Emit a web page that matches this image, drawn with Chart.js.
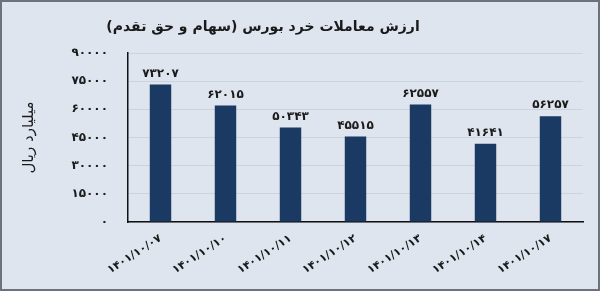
<!DOCTYPE html>
<html>
<head>
<meta charset="utf-8">
<script src="https://cdn.jsdelivr.net/npm/chart.js@4/dist/chart.umd.min.js"></script>
<style>
  body { margin: 0; background: #dfe5ef; }
  #wrap { width: 600px; height: 291px; position: relative; }
</style>
</head>
<body>
<div id="wrap"><canvas id="chart"></canvas></div>
<script>
// data
const dates = ['1401/10/07', '1401/10/10', '1401/10/11', '1401/10/12', '1401/10/13', '1401/10/14', '1401/10/17'];
const values = [73207, 62015, 50343, 45515, 62557, 41641, 56257];
const yTicks = [0, 15000, 30000, 45000, 60000, 75000, 90000];

const chartTitle = 'ارزش معاملات خرد بورس (سهام و حق تقدم)';
const yTitle = 'میلیارد ریال';

// latin -> persian digits
const fa = (v) => String(v).replace(/[0-9]/g, d => '۰۱۲۳۴۵۶۷۸۹'[d]);

const fontFam = '"DejaVu Sans", "Noto Sans", sans-serif';

// background, frame and the title (title sits left of centre in the original)
const framePlugin = {
    id: 'frame',
    beforeDraw(chart) {
        const ctx = chart.ctx;
        ctx.save();
        ctx.fillStyle = '#dfe5ef';
        ctx.fillRect(0, 0, chart.width, chart.height);
        ctx.strokeStyle = '#6e737b';
        ctx.lineWidth = 2;
        ctx.strokeRect(1, 1, chart.width - 2, chart.height - 2);
        ctx.font = 'bold 14px ' + fontFam;
        ctx.fillStyle = '#1a1a1a';
        ctx.textAlign = 'center';
        ctx.textBaseline = 'middle';
        ctx.fillText(chartTitle, 263, 27);
        ctx.restore();
    }
};

// value labels above each bar
const valueLabels = {
    id: 'valueLabels',
    afterDatasetsDraw(chart) {
        const ctx = chart.ctx;
        const meta = chart.getDatasetMeta(0);
        ctx.save();
        ctx.font = 'bold 12px ' + fontFam;
        ctx.fillStyle = '#1a1a1a';
        ctx.textAlign = 'center';
        ctx.textBaseline = 'bottom';
        meta.data.forEach((bar, i) => {
            ctx.fillText(fa(values[i]), bar.x, bar.y - 5);
        });
        ctx.restore();
    }
};

new Chart(document.getElementById('chart'), {
    type: 'bar',
    data: {
        labels: dates.map(fa),
        datasets: [{
            data: values,
            backgroundColor: '#1b3a63',
            categoryPercentage: 1,
            barPercentage: 0.33
        }]
    },
    options: {
        responsive: true,
        maintainAspectRatio: false,
        animation: false,
        layout: { padding: { left: 0, right: 17, top: 53, bottom: 0 } },
        plugins: {
            legend: { display: false },
            tooltip: { enabled: false },
            title: { display: false }
        },
        scales: {
            x: {
                grid: { display: false, drawTicks: false },
                border: { color: '#111', width: 1.5 },
                ticks: {
                    color: '#1a1a1a',
                    font: { family: fontFam, size: 11, weight: 'bold' },
                    minRotation: 33,
                    maxRotation: 33,
                    padding: 10
                },
                afterFit(scale) { scale.height = 69; }
            },
            y: {
                min: 0,
                max: 90000,
                afterBuildTicks(scale) { scale.ticks = yTicks.map(v => ({ value: v })); },
                grid: { color: '#cbd3de', drawTicks: false },
                border: { color: '#111', width: 1.5 },
                ticks: {
                    color: '#1a1a1a',
                    font: { family: fontFam, size: 12, weight: 'bold' },
                    padding: 20,
                    callback: (v) => fa(v)
                },
                title: {
                    display: true,
                    text: yTitle,
                    color: '#1a1a1a',
                    font: { family: fontFam, size: 15 },
                    padding: { top: 20, bottom: 0 }
                },
                afterFit(scale) { scale.width = 128; }
            }
        }
    },
    plugins: [framePlugin, valueLabels]
});
</script>
</body>
</html>
